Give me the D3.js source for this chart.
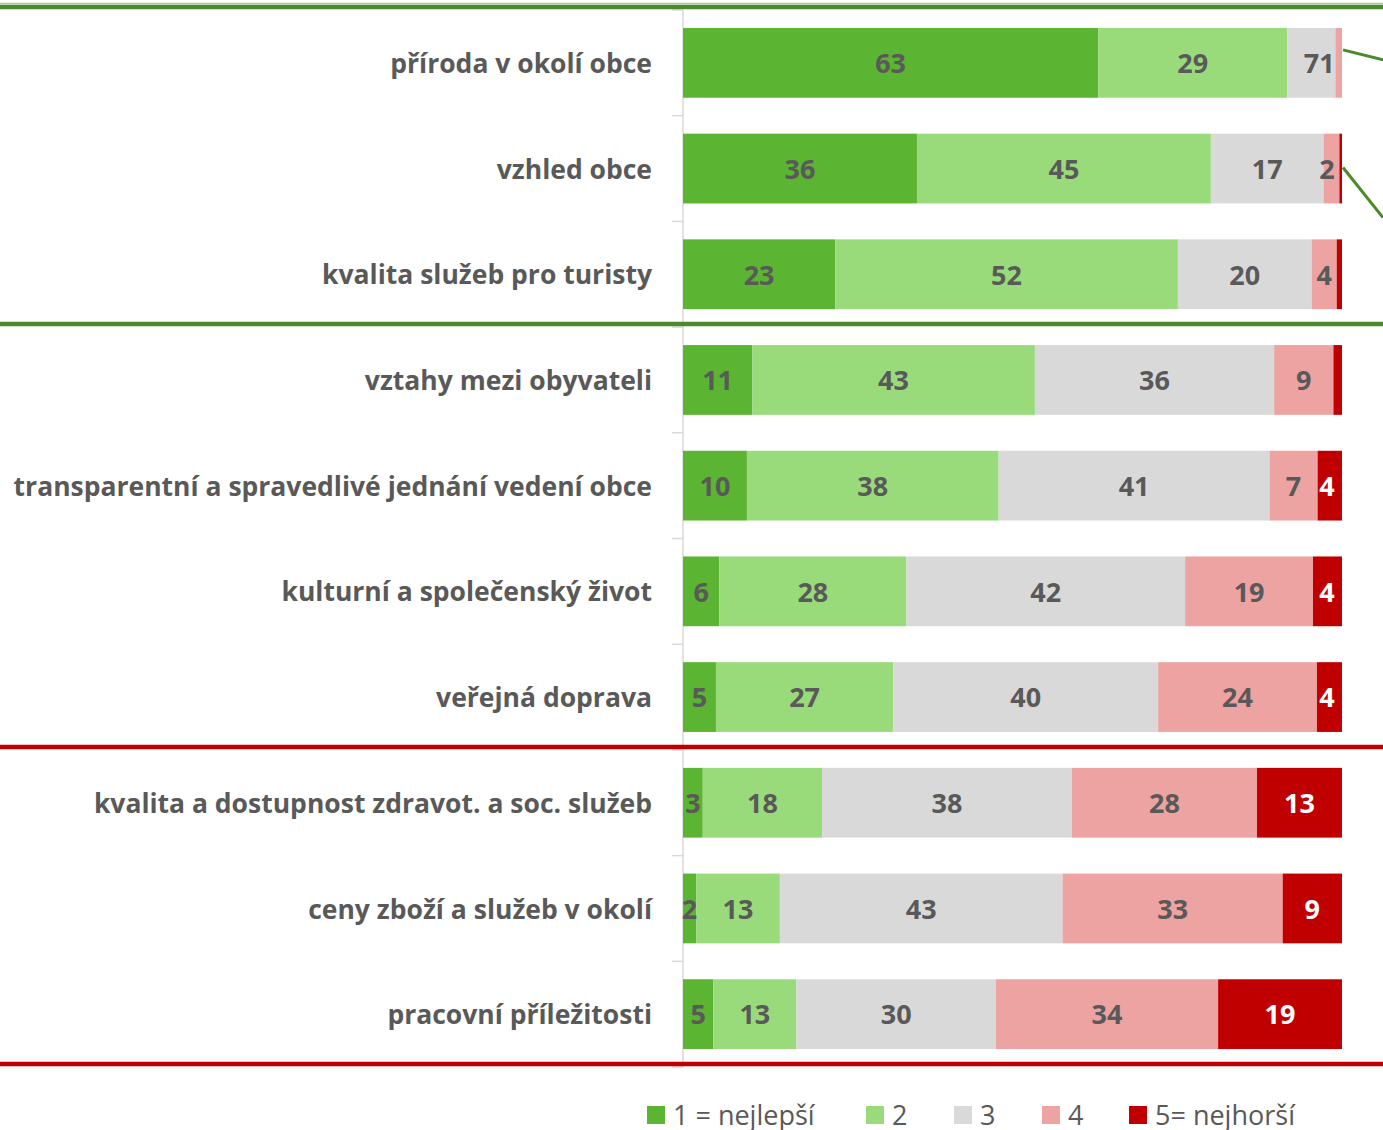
<!DOCTYPE html>
<html>
<head>
<meta charset="utf-8">
<script src="https://cdn.jsdelivr.net/npm/d3@7"></script>
<style>
  body { margin: 0; background: #fff; }
  text { font-family: "Open Sans", Lato, sans-serif; }
</style>
</head>
<body>
<svg id="chart"></svg>
<script>
// categories, top to bottom
const categories = [
    "příroda v okolí obce",
    "vzhled obce",
    "kvalita služeb pro turisty",
    "vztahy mezi obyvateli",
    "transparentní a spravedlivé jednání vedení obce",
    "kulturní a společenský život",
    "veřejná doprava",
    "kvalita a dostupnost zdravot. a soc. služeb",
    "ceny zboží a služeb v okolí",
    "pracovní příležitosti"
];

// shares (%) per rating
const best   = [63, 35.5, 23.1, 10.5, 9.7, 5.5, 5.0, 3.0, 2.0, 4.6];
const two    = [28.7, 44.6, 52.0, 42.9, 38.2, 28.4, 26.9, 18.1, 12.7, 12.6];
const three  = [7.3, 17.1, 20.3, 36.3, 41.1, 42.3, 40.2, 37.9, 42.9, 30.3];
const four   = [1.0, 2.4, 3.8, 9.0, 7.3, 19.4, 24.1, 28.1, 33.4, 33.7];
const worst  = [0, 0.4, 0.8, 1.3, 3.7, 4.4, 3.8, 12.9, 9.0, 18.8];

const seriesNames = ["1 = nejlepší", "2", "3", "4", "5= nejhorší"];
const seriesColors = ["#5bb432", "#99db7a", "#d9d9d9", "#eca3a2", "#c00000"];

// group separator lines: band index where the line sits, colour
const separators = [
    { at: 0, color: "#4a8a2b" },
    { at: 3, color: "#4a8a2b" },
    { at: 7, color: "#c00000" },
    { at: 10, color: "#c00000" }
];

const W = 1383, H = 1130;
const svg = d3.select("#chart").attr("width", W).attr("height", H);

const rows = categories.map((c, i) => ({
    cat: c, v: [best[i], two[i], three[i], four[i], worst[i]]
}));

const x = d3.scaleLinear().domain([0, 100]).range([683, 1342]);
const y = d3.scaleBand().domain(categories).range([10, 1067])
    .paddingInner(0.34).paddingOuter(0.17);
const step = y.step();
const bandTop = i => 10 + i * step;

// axis line with ticks between categories
svg.append("line")
    .attr("x1", 683).attr("x2", 683)
    .attr("y1", 10).attr("y2", 1067)
    .attr("stroke", "#d9d9d9").attr("stroke-width", 1.5);
svg.append("g").selectAll("line")
    .data(d3.range(categories.length + 1))
    .join("line")
    .attr("x1", 672).attr("x2", 683)
    .attr("y1", d => bandTop(d)).attr("y2", d => bandTop(d))
    .attr("stroke", "#d9d9d9").attr("stroke-width", 1.5);

// stacked segments
const stack = d3.stack().keys([0, 1, 2, 3, 4]).value((d, k) => d.v[k]);
const layers = stack(rows);

const seg = svg.append("g").selectAll("g")
    .data(layers)
    .join("g")
    .attr("fill", d => seriesColors[d.key]);

seg.selectAll("rect")
    .data(d => d)
    .join("rect")
    .attr("x", d => x(d[0]))
    .attr("y", d => y(d.data.cat))
    .attr("width", d => x(d[1]) - x(d[0]))
    .attr("height", y.bandwidth());

// value labels
const labels = svg.append("g");
layers.forEach(layer => {
    const k = layer.key;
    labels.selectAll(null)
        .data(layer.filter(d => {
            const v = d[1] - d[0];
            return k === 4 ? v >= 3 : v >= 1;
        }))
        .join("text")
        .attr("x", d => Math.min((x(d[0]) + x(d[1])) / 2, x(100) - 15))
        .attr("y", d => y(d.data.cat) + y.bandwidth() / 2)
        .attr("dy", "0.38em")
        .attr("text-anchor", "middle")
        .attr("font-size", 27)
        .attr("font-weight", "bold")
        .attr("fill", k === 4 ? "#fff" : "#595959")
        .text(d => Math.round(d[1] - d[0]));
});

// category labels
svg.append("g").selectAll("text")
    .data(categories)
    .join("text")
    .attr("x", 652)
    .attr("y", d => y(d) + y.bandwidth() / 2)
    .attr("dy", "0.38em")
    .attr("text-anchor", "end")
    .attr("font-size", 26.5)
    .attr("font-weight", "bold")
    .attr("fill", "#595959")
    .text(d => d);

// separators
svg.append("line")
    .attr("x1", 0).attr("x2", W).attr("y1", 3.5).attr("y2", 3.5)
    .attr("stroke", "#a9c99a").attr("stroke-width", 1.5);
svg.append("g").selectAll("line")
    .data(separators)
    .join("line")
    .attr("x1", 0).attr("x2", W)
    .attr("y1", d => bandTop(d.at) - 3).attr("y2", d => bandTop(d.at) - 3)
    .attr("stroke", d => d.color).attr("stroke-width", 4.5);

// leader lines running off the right edge
const leaders = [
    { row: 0, dy: 10 },
    { row: 1, dy: 50 }
];
svg.append("g").selectAll("line")
    .data(leaders)
    .join("line")
    .attr("x1", x(100) + 1).attr("x2", W)
    .attr("y1", d => y(categories[d.row]) + y.bandwidth() / 2 - 13 + d.row * 12)
    .attr("y2", d => y(categories[d.row]) + y.bandwidth() / 2 - 13 + d.row * 12 + d.dy)
    .attr("stroke", "#4a8a2b").attr("stroke-width", 3);

// legend
const legendX = [647, 866, 954, 1042, 1129];
const lg = svg.append("g").selectAll("g")
    .data(seriesNames)
    .join("g")
    .attr("transform", (d, i) => `translate(${legendX[i]},1106)`);
lg.append("rect")
    .attr("width", 18).attr("height", 18)
    .attr("fill", (d, i) => seriesColors[i]);
lg.append("text")
    .attr("x", 26).attr("y", 9).attr("dy", "0.36em")
    .attr("font-size", 27)
    .attr("fill", "#595959")
    .text(d => d);
</script>
</body>
</html>
